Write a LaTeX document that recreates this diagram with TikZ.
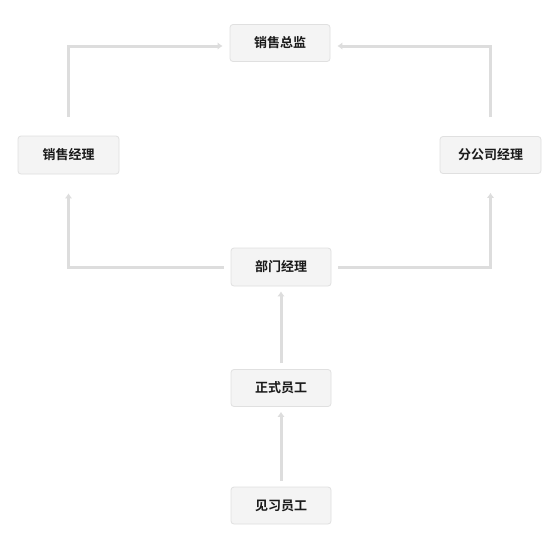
\documentclass[tikz,border=0pt]{standalone}
\usepackage{fontspec}
\newfontfamily\cjk{Noto Sans CJK SC}[BoldFont={Noto Sans CJK SC Bold}]
\usetikzlibrary{arrows.meta,calc}
\definecolor{boxfill}{HTML}{F4F4F4}
\definecolor{boxline}{HTML}{E0E0E0}
\definecolor{conn}{HTML}{DDDDDD}
\definecolor{txt}{HTML}{1A1A1A}
\tikzset{
  role/.style={draw=boxline, fill=boxfill, rounded corners=3pt, line width=0.8pt,
    minimum width=100pt, minimum height=37pt, inner sep=0pt,
    font=\cjk\bfseries\fontsize{13pt}{15pt}\selectfont, text=txt},
  link/.style={draw=conn, line width=3pt, -{Latex[length=5pt,width=7.5pt]}}
}
\begin{document}
\begin{tikzpicture}[x=1pt,y=-1pt]
\useasboundingbox[fill=white] (0,0) rectangle (560,560);
\node[role] (zj) at (280,43) {销售总监};
\node[role, minimum width=101pt, minimum height=38pt] (xs) at (68.5,155) {销售经理};
\node[role, minimum width=101pt] (fg) at (490.5,155) {分公司经理};
\node[role, minimum height=38pt] (bm) at (281,267) {部门经理};
\node[role] (zs) at (281,388) {正式员工};
\node[role] (jx) at (281,505.5) {见习员工};
\coordinate (s1) at ($(xs.north)+(0,-19)$);
\coordinate (e1) at ($(zj.west)+(-7,3)$);
\coordinate (s2) at ($(fg.north)+(0,-19)$);
\coordinate (e2) at ($(zj.east)+(7,3)$);
\coordinate (s3) at ($(bm.west)+(-7,0)$);
\coordinate (e3) at ($(xs.south)+(0,19)$);
\coordinate (s4) at ($(bm.east)+(7,0)$);
\coordinate (e4) at ($(fg.south)+(0,19)$);
\draw[link] (s1) |- (e1);
\draw[link] (s2) |- (e2);
\draw[link] (s3) -| (e3);
\draw[link] (s4) -| (e4);
\draw[link] ($(zs.north)+(0,-6)$) -- ($(bm.south)+(0,5)$);
\draw[link] ($(jx.north)+(0,-6)$) -- ($(zs.south)+(0,5)$);
\end{tikzpicture}
\end{document}
